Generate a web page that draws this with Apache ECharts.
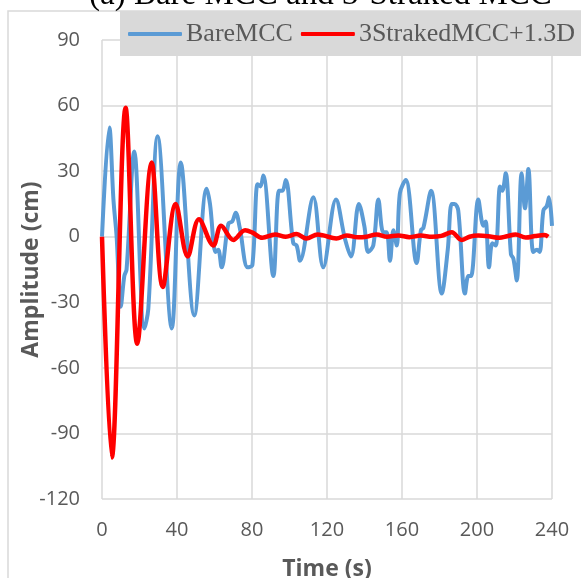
<!DOCTYPE html>
<html lang="en">
<head>
    <meta charset="UTF-8">
    <title>Bare MCC and 3-Straked MCC</title>
    <style>
        * {
            margin: 0;
            padding: 0;
        }

        html, body {
            height: 100%;
            width: 100%;
            background: #fff;
        }
    </style>
    <script src="https://cdn.jsdelivr.net/npm/echarts@6/dist/echarts.min.js"></script>
</head>
<body>

<div id="main" style="width: 581px;height: 578px;"></div>

<script>
    // time (s) and amplitude (cm)
    var bareTime = [0, 3.9, 6.1, 7.8, 10, 11.9, 13.1, 17.2, 22.6, 24.7, 29.7, 37.2, 42, 49.2, 55.8, 57.6, 60.6, 62,
        63.8, 67.4, 69.5, 71.3, 73.5, 77.7, 80.2, 83, 84.5, 86, 91.4, 94.4, 96.2, 98, 102, 103.8, 105.6, 112.7, 118,
        124.8, 129.6, 132.8, 137, 139.9, 142, 144.7, 147.4, 150, 151.8, 153.6, 155.4, 157.2, 158.9, 162, 167.8, 170.1,
        171.4, 175.5, 181.2, 184.4, 186.5, 188, 190, 193.6, 195.4, 196.8, 200.7, 203.4, 204.6, 206.4, 208.2, 210,
        212.3, 213.5, 215.3, 218.1, 219.4, 221.2, 223.8, 225.6, 227.4, 230, 232, 233.4, 235.4, 237.2, 238.4, 240];
    var bareAmp = [0, 50, 17, 0, -32, -18, -15, 39, -42, -33, 46, -42, 34, -36, 22, 15, -7, -6,
        -14, 6, 7, 11, 4, -14, -13, 24, 23, 28, -18, 21, 21, 26, -3, -4, -11, 18, -14,
        17, -1, -9, 15, 5, -7, -4, 17, 2, 2, -11, 3, -4, 20, 26, -12, 3,
        4, 21, -26, -6, 15, 15, 12, -26, -18, -18, 17, 5, 7, -14, -3, -4,
        23, 21, 29, -8, -10, -20, 29, 13, 31, -7, -6, -7, 12, 14, 18, 5];

    var strakedTime = [0, 5.2, 12.6, 18.8, 26.5, 32.4, 39.3, 45.7, 51.7, 59.4, 63.5, 70, 76.3, 80, 85.5, 92.3,
        98, 103.8, 109, 115, 118, 125, 130.5, 136.5, 141, 146.5, 152, 158, 164, 170, 176, 181, 186.5, 191.8,
        196, 200.7, 206, 212, 216, 220.6, 226, 231, 236, 238];
    var strakedAmp = [0, -101, 59, -49, 34, -23, 15, -9, 8, -4, 5, -1.5, 3, 2, -0.5, 1,
        0, 1.2, -0.8, 1, 0.6, -0.8, 0.6, -0.3, 0, 1, 0, 0.6, -0.2, 0.5, 0, 0.4, 2, -1.5,
        0, 0.5, 0.2, -0.5, 0.2, 1, -0.4, 0.3, 0.8, 0];

    var seriesNames = ['BareMCC', '3StrakedMCC+1.3D'];
    var xTicks = {min: 0, max: 240, interval: 40};
    var yTicks = {min: -120, max: 90, interval: 30};

    function pairs(t, v) {
        var out = [];
        for (var i = 0; i < t.length; i++) {
            out.push([t[i], v[i]]);
        }
        return out;
    }

    var myChart = echarts.init(document.getElementById('main'));

    var tickFont = {color: '#595959', fontFamily: 'Open Sans', fontSize: 20};
    var nameFont = {color: '#595959', fontFamily: 'Open Sans', fontSize: 23, fontWeight: 'bold'};
    var gridLine = {lineStyle: {color: '#d9d9d9', width: 1.5}};

    var option = {
        animation: false,
        backgroundColor: '#fff',
        graphic: [
            {
                // chart area border
                type: 'rect',
                z: -10,
                shape: {x: 8, y: 11, width: 700, height: 700},
                style: {fill: 'none', stroke: '#d9d9d9', lineWidth: 1.5}
            },
            {
                // title, cut off at the top of the picture
                type: 'text',
                z: 100,
                x: 89,
                y: 12,
                style: {
                    text: '(a) Bare MCC and 3-Straked MCC',
                    font: '33px "Liberation Serif"',
                    fill: '#000',
                    verticalAlign: 'bottom'
                }
            }
        ],
        legend: {
            data: seriesNames,
            left: 120,
            top: 11,
            width: 520,
            padding: [10, 8, 9, 8],
            itemGap: 8,
            itemWidth: 54,
            itemHeight: 4,
            icon: 'roundRect',
            backgroundColor: '#d9d9d9',
            textStyle: {
                fontFamily: 'Liberation Serif',
                fontSize: 26,
                color: '#595959',
                padding: [0, 0, 0, -1]
            }
        },
        grid: {
            left: 102,
            right: 29,
            top: 40,
            bottom: 79,
            outerBoundsMode: 'none'
        },
        xAxis: {
            type: 'value',
            min: xTicks.min,
            max: xTicks.max,
            interval: xTicks.interval,
            name: 'Time (s)',
            nameLocation: 'middle',
            nameGap: 59,
            nameMoveOverlap: false,
            nameTextStyle: nameFont,
            axisLine: {show: false, onZero: false},
            axisTick: {show: false},
            axisLabel: Object.assign({margin: 21}, tickFont),
            splitLine: gridLine
        },
        yAxis: {
            type: 'value',
            min: yTicks.min,
            max: yTicks.max,
            interval: yTicks.interval,
            name: 'Amplitude (cm)',
            nameLocation: 'middle',
            nameGap: 59,
            nameMoveOverlap: false,
            nameTextStyle: nameFont,
            axisLine: {show: false},
            axisTick: {show: false},
            axisLabel: Object.assign({margin: 22}, tickFont),
            splitLine: gridLine
        },
        series: [
            {
                name: seriesNames[0],
                type: 'line',
                showSymbol: false,
                smooth: 0.35,
                data: pairs(bareTime, bareAmp),
                itemStyle: {color: '#5b9bd5'},
                lineStyle: {color: '#5b9bd5', width: 4}
            },
            {
                name: seriesNames[1],
                type: 'line',
                showSymbol: false,
                smooth: 0.35,
                data: pairs(strakedTime, strakedAmp),
                itemStyle: {color: '#ff0000'},
                lineStyle: {color: '#ff0000', width: 4.5}
            }
        ]
    };
    myChart.setOption(option);
</script>

</body>
</html>
